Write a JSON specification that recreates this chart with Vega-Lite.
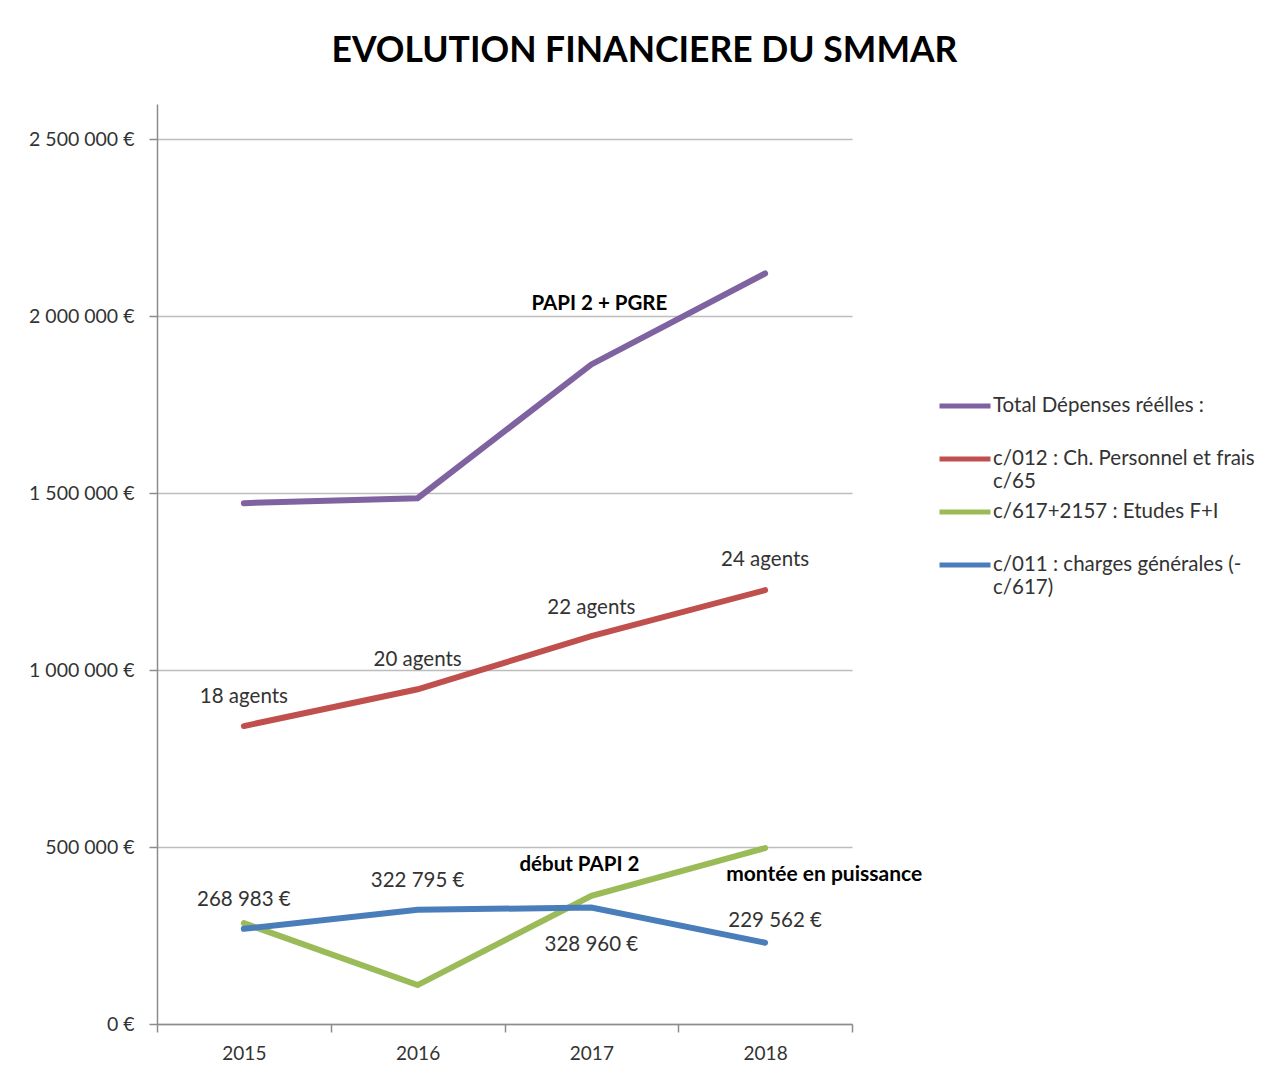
{
  "$schema": "https://vega.github.io/schema/vega-lite/v6.json",
  "width": 695,
  "height": 920,
  "autosize": "none",
  "padding": {"left": 157, "top": 104, "right": 411, "bottom": 53},
  "background": "white",
  "config": {
    "view": {"stroke": null},
    "font": "Lato",
    "text": {"font": "Lato"}
  },
  "title": {
    "text": "EVOLUTION FINANCIERE DU SMMAR",
    "font": "Lato",
    "fontSize": 35.5,
    "fontWeight": "bold",
    "color": "#000000",
    "anchor": "middle",
    "frame": "group",
    "baseline": "alphabetic",
    "dx": 140,
    "offset": 7
  },
  "datasets": {
    "series": [
      {"year": "2015", "serie": "Total Dépenses réélles :", "value": 1472000},
      {"year": "2016", "serie": "Total Dépenses réélles :", "value": 1486000},
      {"year": "2017", "serie": "Total Dépenses réélles :", "value": 1864000},
      {"year": "2018", "serie": "Total Dépenses réélles :", "value": 2121000},
      {"year": "2015", "serie": "c/012 : Ch. Personnel et frais c/65", "value": 842000},
      {"year": "2016", "serie": "c/012 : Ch. Personnel et frais c/65", "value": 946000},
      {"year": "2017", "serie": "c/012 : Ch. Personnel et frais c/65", "value": 1096000},
      {"year": "2018", "serie": "c/012 : Ch. Personnel et frais c/65", "value": 1226000},
      {"year": "2015", "serie": "c/617+2157 : Etudes F+I", "value": 285000},
      {"year": "2016", "serie": "c/617+2157 : Etudes F+I", "value": 110000},
      {"year": "2017", "serie": "c/617+2157 : Etudes F+I", "value": 362000},
      {"year": "2018", "serie": "c/617+2157 : Etudes F+I", "value": 497000},
      {"year": "2015", "serie": "c/011 : charges générales (-c/617)", "value": 268983},
      {"year": "2016", "serie": "c/011 : charges générales (-c/617)", "value": 322795},
      {"year": "2017", "serie": "c/011 : charges générales (-c/617)", "value": 328960},
      {"year": "2018", "serie": "c/011 : charges générales (-c/617)", "value": 229562}
    ],
    "labels": [
      {"year": "2015", "value": 924000, "text": "18  agents"},
      {"year": "2016", "value": 1029000, "text": "20 agents"},
      {"year": "2017", "value": 1176000, "text": "22 agents"},
      {"year": "2018", "value": 1311000, "text": "24 agents"},
      {"year": "2015", "value": 350000, "text": "268 983 €"},
      {"year": "2016", "value": 404000, "text": "322 795 €"},
      {"year": "2017", "value": 223000, "text": "328 960 €"}
    ],
    "label2018": [
      {"year": "2018", "value": 291000, "text": "229 562 €"}
    ],
    "papi": [
      {"year": "2017", "value": 2035000, "text": "PAPI 2 + PGRE"}
    ],
    "debut": [
      {"year": "2017", "value": 449000, "text": "début PAPI 2"}
    ],
    "montee": [
      {"year": "2018", "value": 421000, "text": "montée en puissance"}
    ]
  },
  "encoding": {
    "x": {
      "field": "year",
      "type": "nominal",
      "scale": {"paddingInner": 0, "paddingOuter": 0},
      "axis": {
        "title": null,
        "labelAngle": 0,
        "tickBand": "extent",
        "labelFont": "Lato",
        "labelFontSize": 19,
        "labelColor": "#333333",
        "labelPadding": 12,
        "tickSize": 8,
        "tickColor": "#8c8c8c",
        "domainColor": "#8c8c8c",
        "domainWidth": 1.5,
        "tickWidth": 1.5,
        "grid": false
      }
    },
    "y": {
      "field": "value",
      "type": "quantitative",
      "scale": {"domain": [0, 2600000], "nice": false},
      "axis": {
        "title": null,
        "values": [0, 500000, 1000000, 1500000, 2000000, 2500000],
        "labelExpr": "replace(format(datum.value, ','), /,/g, ' ') + ' €'",
        "labelFont": "Lato",
        "labelFontSize": 19.5,
        "labelColor": "#333333",
        "labelPadding": 15,
        "tickSize": 8,
        "tickColor": "#8c8c8c",
        "tickWidth": 1.5,
        "domainColor": "#8c8c8c",
        "domainWidth": 1.5,
        "grid": true,
        "gridColor": "#bdbdbd",
        "gridWidth": 1.5
      }
    }
  },
  "layer": [
    {
      "data": {"name": "series"},
      "mark": {"type": "line", "strokeWidth": 6, "strokeCap": "round"},
      "encoding": {
        "color": {
          "field": "serie",
          "type": "nominal",
          "scale": {
            "domain": ["Total Dépenses réélles :", "c/012 : Ch. Personnel et frais c/65", "c/617+2157 : Etudes F+I", "c/011 : charges générales (-c/617)"],
            "range": ["#7f63a1", "#c0504d", "#9bbb59", "#4a7ebb"]
          },
          "legend": {
            "title": null,
            "orient": "none",
            "legendX": 780,
            "legendY": 282,
            "padding": 0,
            "symbolType": "stroke",
            "symbolSize": 2601,
            "symbolStrokeWidth": 5,
            "clipHeight": 40,
            "gridAlign": "all",
            "rowPadding": 0,
            "labelOffset": 0,
            "labelFont": "Lato",
            "labelFontSize": 20.5,
            "labelColor": "#333333",
            "labelLimit": 400,
            "labelExpr": "datum.label == 'c/012 : Ch. Personnel et frais c/65' ? ['c/012 : Ch. Personnel et frais', 'c/65'] : datum.label == 'c/011 : charges générales (-c/617)' ? ['c/011 : charges générales (-', 'c/617)'] : datum.label"
          }
        }
      }
    },
    {
      "data": {"name": "labels"},
      "mark": {"type": "text", "fontSize": 20.5, "color": "#333333", "align": "center", "baseline": "middle"},
      "encoding": {"text": {"field": "text"}}
    },
    {
      "data": {"name": "label2018"},
      "mark": {"type": "text", "fontSize": 20.5, "color": "#333333", "align": "center", "baseline": "middle", "dx": 10},
      "encoding": {"text": {"field": "text"}}
    },
    {
      "data": {"name": "papi"},
      "mark": {"type": "text", "fontSize": 20.5, "fontWeight": "bold", "color": "#000000", "align": "center", "baseline": "middle", "dx": 8},
      "encoding": {"text": {"field": "text"}}
    },
    {
      "data": {"name": "debut"},
      "mark": {"type": "text", "fontSize": 20.5, "fontWeight": "bold", "color": "#000000", "align": "center", "baseline": "middle", "dx": -12},
      "encoding": {"text": {"field": "text"}}
    },
    {
      "data": {"name": "montee"},
      "mark": {"type": "text", "fontSize": 21, "fontWeight": "bold", "color": "#000000", "align": "center", "baseline": "middle", "dx": 59},
      "encoding": {"text": {"field": "text"}}
    }
  ]
}
